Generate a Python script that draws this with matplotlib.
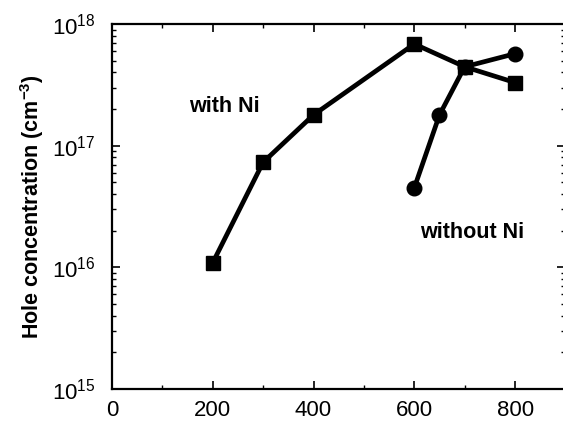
import numpy as np
import matplotlib.pyplot as plt
from matplotlib.ticker import LogLocator, MultipleLocator, NullFormatter

plt.rcParams['font.family'] = ['Liberation Sans', 'DejaVu Sans']
plt.rcParams['mathtext.fontset'] = 'custom'
plt.rcParams['mathtext.rm'] = 'Liberation Sans'
plt.rcParams['mathtext.bf'] = 'Liberation Sans:bold'

# Annealing temperature vs hole concentration
temp_ni = [200, 300, 400, 600, 700, 800]
hole_ni = [1.09e16, 7.3e16, 1.79e17, 6.85e17, 4.45e17, 3.3e17]

temp_no_ni = [600, 650, 700, 800]
hole_no_ni = [4.5e16, 1.79e17, 4.45e17, 5.7e17]

fig = plt.figure(figsize=(5.63, 4.21), dpi=100)
ax = fig.add_axes([0.1988, 0.076, 0.8056, 0.867])

ax.plot(temp_ni, hole_ni, 'k-', marker='s', markersize=10.5, linewidth=3.4)
ax.plot(temp_no_ni, hole_no_ni, 'k-', marker='o', markersize=10.5, linewidth=3.4)

ax.set_yscale('log')
ax.set_xlim(0, 900)
ax.set_ylim(1e15, 1e18)

ax.xaxis.set_major_locator(MultipleLocator(200))
ax.xaxis.set_minor_locator(MultipleLocator(100))
ax.yaxis.set_major_locator(LogLocator(base=10, numticks=10))
ax.yaxis.set_minor_locator(LogLocator(base=10, subs=np.arange(2, 10), numticks=10))
ax.yaxis.set_minor_formatter(NullFormatter())

ax.tick_params(which='both', direction='in', top=True, right=True, labelsize=16)
ax.tick_params(which='major', length=6, width=1.2)
ax.tick_params(which='minor', length=3, width=1.0)
ax.tick_params(axis='y', which='major', pad=12)
ax.tick_params(axis='x', which='major', pad=8)
for s in ax.spines.values():
    s.set_linewidth(1.6)

ax.set_ylabel('Hole concentration (cm$^{\\mathbf{-3}}$)', fontsize=15.5, fontweight='bold', labelpad=4)

ax.text(224, 2.1e17, 'with Ni', fontsize=15.5, fontweight='bold', ha='center', va='center')
ax.text(715, 1.95e16, 'without Ni', fontsize=15.5, fontweight='bold', ha='center', va='center')

fig.savefig('out.png', dpi=100)
